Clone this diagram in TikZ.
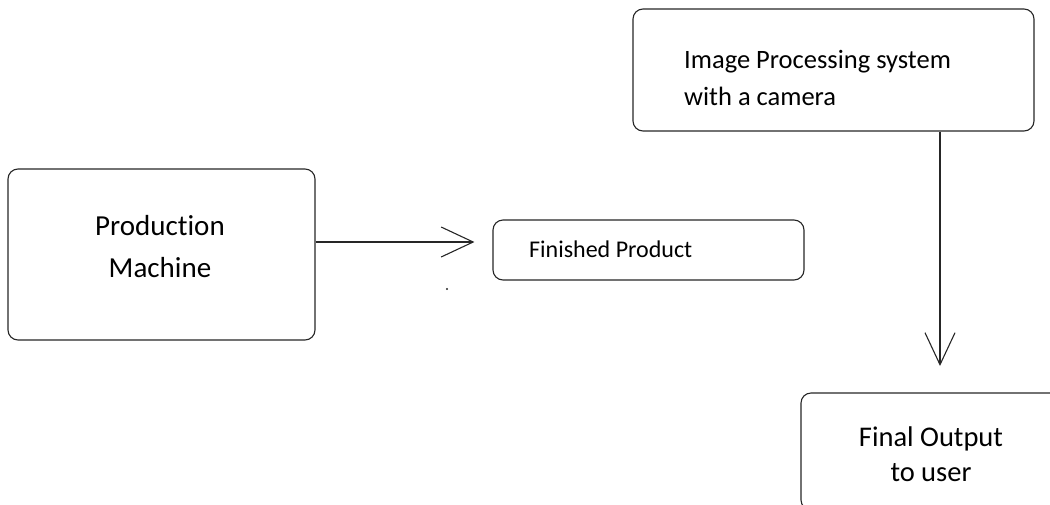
\documentclass[tikz,border=0pt]{standalone}
\usepackage{fontspec}
\setmainfont[Ligatures={NoCommon,NoRare,NoContextual,NoHistoric}]{Carlito}
\usetikzlibrary{arrows.meta}

% keep t and i apart (Carlito joins them into one glyph)
\newcommand{\tisep}{t\kern0pt i}

\tikzset{
  box/.style={draw=black!85, line width=1.1pt, rounded corners=10pt, inner sep=0pt},
  flow/.style={draw=black!85, line width=1.1pt,
    -{Straight Barb[length=32pt, width=30pt, line width=1.1pt]}},
  label text/.style={inner sep=0pt, text=black}
}

\begin{document}
\begin{tikzpicture}[x=1pt, y=-1pt]
  \useasboundingbox (0,0) rectangle (1050,504);

  % boxes
  \node[box, minimum width=307pt, minimum height=171pt] (pm) at (161.5,254.5) {};
  \node[box, minimum width=311pt, minimum height=60pt] (fp) at (648.5,250) {};
  \node[box, minimum width=401pt, minimum height=122pt] (ip) at (833.5,70) {};
  \node[box, minimum width=264pt, minimum height=117pt] (fo) at (933,451.5) {};

  % texts
  \node[label text, align=center, font=\fontsize{29}{42}\selectfont] (pmt) at (160,247)
    {Produc\tisep on\\Machine};
  \node[label text, anchor=west, font=\fontsize{24}{30}\selectfont] (fpt) at (529,249)
    {Finished Product};
  \node[label text, anchor=west, align=left, font=\fontsize{26.5}{37}\selectfont] (ipt) at (684,78)
    {Image Processing system\\with a camera};
  \node[label text, align=center, font=\fontsize{28.5}{35}\selectfont] (fot) at (931,454)
    {Final Output\\to user};

  % connectors
  \coordinate (fpin) at ([xshift=-18pt, yshift=8pt]fp.west);
  \coordinate (foin) at (940,366);
  \draw[flow] ([yshift=12.5pt]pm.east) -- (fpin);
  \draw[flow] (ip.south -| foin) -- (foin);

  % stray dot below the first arrow
  \coordinate (dot) at (447,289);
  \fill[black!85] (dot) circle (1.1pt);
\end{tikzpicture}
\end{document}
